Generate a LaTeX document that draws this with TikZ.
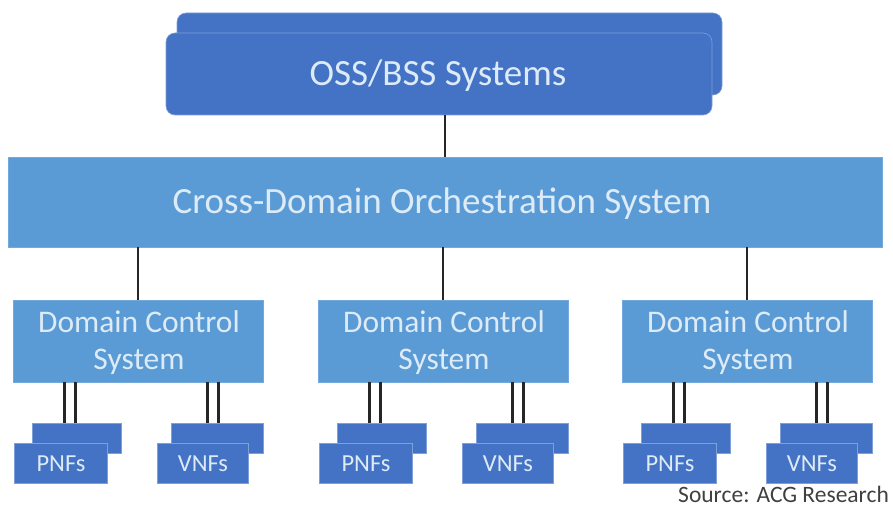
\documentclass[tikz,border=0pt]{standalone}
\usepackage{fontspec}
\setmainfont{Carlito}
\usetikzlibrary{calc}
\definecolor{dblue}{HTML}{4472C4}
\definecolor{lblue}{HTML}{5B9BD5}
\definecolor{ltext}{HTML}{DDEBF7}
\definecolor{edge}{HTML}{7F9FD8}
\definecolor{srcgray}{HTML}{404040}
\tikzset{
  ossbox/.style={draw=edge, line width=0.6pt, fill=dblue, rounded corners=9pt, inner sep=0pt},
  bigbox/.style={fill=lblue, draw=lblue!85!white, line width=0.6pt, inner sep=0pt},
  nfbox/.style={fill=dblue, draw=edge, line width=0.6pt, inner sep=0pt},
  lbl/.style={text=ltext, inner sep=0pt, align=center},
  conn/.style={line width=2.6pt, black!85},
}
\begin{document}
\begin{tikzpicture}[x=1pt,y=-1pt]
\useasboundingbox (0,0) rectangle (893,508);
% OSS/BSS
\node[ossbox, minimum width=545pt, minimum height=82pt] (ossb) at (449.5,54) {};
\node[ossbox, minimum width=546pt, minimum height=82pt] (oss) at (439,74) {};
\node[lbl, font=\fontsize{37}{40}\selectfont] (osst) at (438,76) {OSS/BSS Systems};
% Cross-domain
\node[bigbox, minimum width=874pt, minimum height=90pt] (cdo) at (445,202) {};
\node[lbl, font=\fontsize{37}{40}\selectfont] (cdot) at (442,204) {Cross-Domain Orchestration System};
\draw[conn] (oss.south -| cdo.north) -- (cdo.north);
% Domains
\foreach \i/\dx in {1/0,2/305,3/609}{
  \node[bigbox, minimum width=250pt, minimum height=82pt] (d\i) at (138+\dx,341) {};
  \node[lbl, font=\fontsize{31.5}{37}\selectfont] (dt\i) at (139+\dx,343) {Domain Control\\System};
  \draw[conn] (d\i.north) -- (d\i.north |- cdo.south);
  % PNFs
  \node[nfbox, minimum width=89pt, minimum height=30pt] (pb\i) at (76.5+\dx,438) {};
  \node[nfbox, minimum width=93pt, minimum height=40pt] (pf\i) at (60.5+\dx,463) {};
  \node[lbl, font=\fontsize{24.5}{28}\selectfont] (pt\i) at (61+\dx,464) {PNFs};
  % VNFs
  \node[nfbox, minimum width=92pt, minimum height=30pt] (vb\i) at (217+\dx,438) {};
  \node[nfbox, minimum width=91pt, minimum height=40pt] (vf\i) at (202.5+\dx,463) {};
  \node[lbl, font=\fontsize{24.5}{28}\selectfont] (vt\i) at (203+\dx,464) {VNFs};
  % double connectors
  \coordinate (pa\i) at (64.5+\dx,0);
  \coordinate (pc\i) at (75.5+\dx,0);
  \coordinate (va\i) at (207.5+\dx,0);
  \coordinate (vc\i) at (218.5+\dx,0);
  \draw[conn] (d\i.south -| pa\i) -- (pb\i.north -| pa\i);
  \draw[conn] (d\i.south -| pc\i) -- (pb\i.north -| pc\i);
  \draw[conn] (d\i.south -| va\i) -- (vb\i.north -| va\i);
  \draw[conn] (d\i.south -| vc\i) -- (vb\i.north -| vc\i);
}
\node[text=srcgray, anchor=base east, inner sep=0pt, font=\fontsize{23.5}{26}\selectfont] (src) at (889,502) {Source: ACG Research};
\end{tikzpicture}
\end{document}
